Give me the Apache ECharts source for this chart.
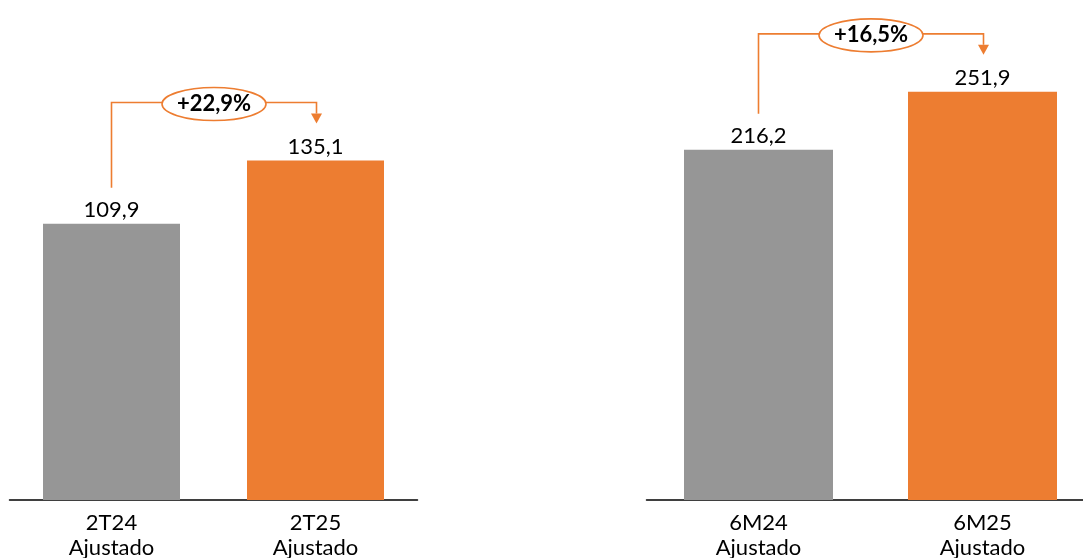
<!DOCTYPE html>
<html>
<head>
<meta charset="utf-8">
<script src="https://cdn.jsdelivr.net/npm/echarts@6/dist/echarts.min.js"></script>
<style>
html,body{margin:0;padding:0;background:#fff;}
#c{width:1083px;height:558px;}
</style>
</head>
<body>
<div id="c"></div>
<script>
const categoriesQ = ['2T24\nAjustado', '2T25\nAjustado'];
const valuesQ = [109.9, 135.1];
const categoriesS = ['6M24\nAjustado', '6M25\nAjustado'];
const valuesS = [216.2, 251.9];
const growthLabels = ['+22,9%', '+16,5%'];

const GRAY = '#969696';
const ORANGE = '#ED7D31';
const FONT = 'Lato, "Open Sans", sans-serif';

function fmt(v) { return v.toFixed(1).replace('.', ','); }

const chart = echarts.init(document.getElementById('c'), null, { renderer: 'canvas' });

function xAxisCfg(gi, cats) {
  return {
    type: 'category', gridIndex: gi, data: cats,
    axisLine: { show: true, lineStyle: { color: '#000', width: 1.5 } },
    axisTick: { show: false },
    axisLabel: { color: '#000', fontSize: 22, fontFamily: FONT, lineHeight: 25, margin: 10, interval: 0 },
    splitLine: { show: false }
  };
}
function yAxisCfg(gi, max) {
  return { type: 'value', gridIndex: gi, min: 0, max: max, show: false, splitLine: { show: false } };
}
function seriesCfg(i, vals, bw) {
  return {
    type: 'bar', xAxisIndex: i, yAxisIndex: i, barWidth: bw,
    data: vals.map((v, k) => ({ value: v, itemStyle: { color: k === 0 ? GRAY : ORANGE } })),
    label: { show: true, position: 'top', distance: 3, color: '#000', fontSize: 22, fontFamily: FONT,
      formatter: p => fmt(p.value) },
    silent: true, animation: false
  };
}

chart.setOption({
  animation: false,
  grid: [
    { left: 9.5, width: 408, top: 0, height: 500, outerBoundsMode: 'none', containLabel: false },
    { left: 646.5, width: 448, top: 0, height: 500, outerBoundsMode: 'none', containLabel: false }
  ],
  xAxis: [xAxisCfg(0, categoriesQ), xAxisCfg(1, categoriesS)],
  yAxis: [yAxisCfg(0, 199), yAxisCfg(1, 308.6)],
  series: [seriesCfg(0, valuesQ, 137), seriesCfg(1, valuesS, 149)]
});

function bracket(si, vals, text) {
  const p1 = chart.convertToPixel({ seriesIndex: si }, [0, vals[0]]);
  const p2 = chart.convertToPixel({ seriesIndex: si }, [1, vals[1]]);
  const x1 = p1[0], x2 = p2[0] + 1;
  const yStart = p1[1] - 36;
  const yTop = p2[1] - 58;
  const yTip = p2[1] - 37;
  const cx = (x1 + x2) / 2;
  const ls = { stroke: ORANGE, lineWidth: 1.6, fill: null };
  return [
    { type: 'polyline', shape: { points: [[x1, yStart], [x1, yTop], [x2, yTop], [x2, yTip - 10]] }, style: ls, z: 10 },
    { type: 'polygon', shape: { points: [[x2 - 5.5, yTip - 10], [x2 + 5.5, yTip - 10], [x2, yTip]] }, style: { fill: ORANGE }, z: 10 },
    { type: 'ellipse', shape: { cx: cx, cy: yTop + 1.5, rx: 52, ry: 16.5 }, style: { fill: '#fff', stroke: ORANGE, lineWidth: 1.6 }, z: 11 },
    { type: 'text', x: cx, y: yTop + 1.5, style: { text: text, fill: '#000', font: 'bold 22px ' + FONT, align: 'center', verticalAlign: 'middle' }, z: 12 }
  ];
}

chart.setOption({
  graphic: { elements: bracket(0, valuesQ, growthLabels[0]).concat(bracket(1, valuesS, growthLabels[1])) }
});
</script>
</body>
</html>
